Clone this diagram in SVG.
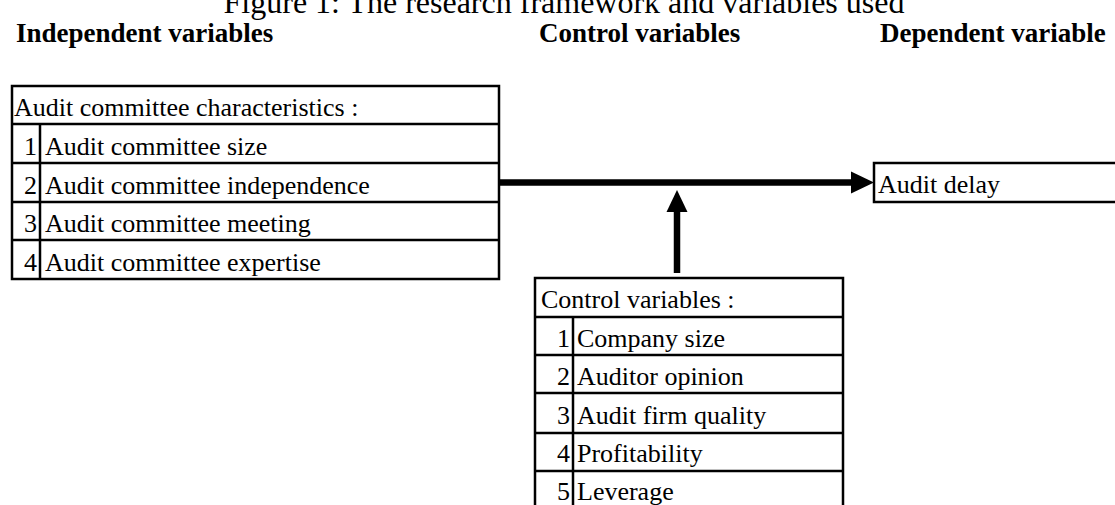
<svg xmlns="http://www.w3.org/2000/svg" width="1115" height="505" viewBox="0 0 1115 505">
<style>
.t{font-family:"Liberation Serif","Times New Roman",serif;font-size:26px;fill:#000}
.h{font-family:"Liberation Serif","Times New Roman",serif;font-size:27px;font-weight:bold;fill:#000}
.ti{font-family:"Liberation Serif","Times New Roman",serif;font-size:32px;fill:#000}
.n{text-anchor:end}
.b{fill:none;stroke:#000;stroke-width:2.5}
.c{fill:none;stroke:#000;stroke-width:6.5}
.hd{fill:#000}
</style>
<rect width="1115" height="505" fill="#fff"/>
<text class="ti" x="564" y="13" text-anchor="middle">Figure 1: The research framework and variables used</text>
<text class="h" x="16" y="42">Independent variables</text>
<text class="h" x="539" y="42">Control variables</text>
<text class="h" x="880" y="42">Dependent variable</text>
<g id="independent">
<rect class="b" x="12" y="86" width="487" height="193"/>
<path class="b" d="M12 124H499M12 163H499M12 202H499M12 240H499M40 124V279"/>
<text class="t" x="14" y="116">Audit committee characteristics :</text>
<text class="t n" x="37" y="155">1</text><text class="t" x="45" y="155">Audit committee size</text>
<text class="t n" x="37" y="194">2</text><text class="t" x="45" y="194">Audit committee independence</text>
<text class="t n" x="37" y="232">3</text><text class="t" x="45" y="232">Audit committee meeting</text>
<text class="t n" x="37" y="271">4</text><text class="t" x="45" y="271">Audit committee expertise</text>
</g>
<g id="dependent">
<rect class="b" x="874" y="163" width="260" height="39"/>
<text class="t" x="878" y="193">Audit delay</text>
</g>
<g id="control">
<path class="b" d="M535 510V278H843V510M535 317H843M535 355H843M535 393H843M535 433H843M535 471H843M573 317V510"/>
<text class="t" x="541" y="308">Control variables :</text>
<text class="t n" x="570" y="347">1</text><text class="t" x="577" y="347">Company size</text>
<text class="t n" x="570" y="385">2</text><text class="t" x="577" y="385">Auditor opinion</text>
<text class="t n" x="570" y="424">3</text><text class="t" x="577" y="424">Audit firm quality</text>
<text class="t n" x="570" y="462">4</text><text class="t" x="577" y="462">Profitability</text>
<text class="t n" x="570" y="500">5</text><text class="t" x="577" y="500">Leverage</text>
</g>
<g id="connectors">
<path class="c" d="M499 182.5H853"/>
<path class="hd" d="M851 171.5L874 182.5L851 193.5Z"/>
<path class="c" d="M677 273V210"/>
<path class="hd" d="M666.5 212L677 190L687.5 212Z"/>
</g>
</svg>
